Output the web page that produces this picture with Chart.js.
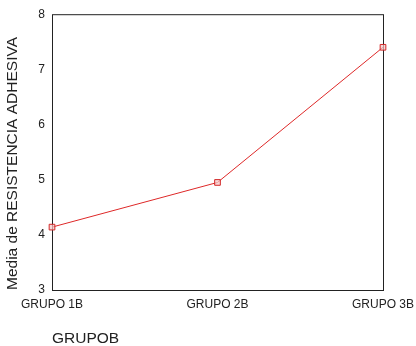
<!DOCTYPE html>
<html>
<head>
<meta charset="utf-8">
<script src="https://cdn.jsdelivr.net/npm/chart.js@4/dist/chart.umd.min.js"></script>
<style>
  html, body { margin: 0; padding: 0; background: #fff; }
  #wrap { width: 416px; height: 346px; }
</style>
</head>
<body>
<div id="wrap"><canvas id="chart" width="416" height="346"></canvas></div>
<script>
// Data
const grupos = ['GRUPO 1B', 'GRUPO 2B', 'GRUPO 3B'];
const mediaResistencia = [4.14, 4.95, 7.40];
const yTicks = [3, 4, 5, 6, 7, 8];

const textColor = '#222';
const fontFamily = '"Liberation Sans", Arial, sans-serif';

// Draw the box around the plot area (SPSS style frame)
const framePlugin = {
  id: 'frame',
  beforeDatasetsDraw(chart) {
    const { ctx, chartArea: a } = chart;
    ctx.save();
    ctx.strokeStyle = '#222';
    ctx.lineWidth = 1;
    ctx.strokeRect(a.left + 0.5, a.top + 0.5, a.right - a.left, a.bottom - a.top);
    ctx.restore();
  }
};

new Chart(document.getElementById('chart'), {
  type: 'line',
  data: {
    labels: grupos,
    datasets: [{
      label: 'Media de RESISTENCIA ADHESIVA',
      data: mediaResistencia,
      borderColor: 'rgb(222, 40, 40)',
      borderWidth: 1,
      backgroundColor: 'rgba(245, 200, 200, 0.7)',
      pointStyle: 'rect',
      pointRadius: 4,
      pointBorderColor: 'rgb(210, 40, 40)',
      pointBorderWidth: 1,
      tension: 0
    }]
  },
  options: {
    responsive: false,
    animation: false,
    layout: { padding: { left: 3, top: 14, right: 33, bottom: 0 } },
    plugins: {
      legend: { display: false },
      tooltip: { enabled: false }
    },
    scales: {
      x: {
        type: 'category',
        offset: false,
        grid: { display: false, drawTicks: false },
        border: { display: false },
        ticks: {
          color: textColor,
          padding: 7,
          maxRotation: 0,
          autoSkip: false,
          font: { family: fontFamily, size: 12 }
        },
        title: {
          display: true,
          text: 'GRUPOB',
          align: 'start',
          color: textColor,
          padding: { top: 0, bottom: -2 },
          font: { family: fontFamily, size: 15.5 }
        },
        afterFit(scale) {
          scale.height = 56;
          // keep the plot box where the reference has it
          scale.paddingLeft = 0;
          scale.paddingRight = 0;
        }
      },
      y: {
        min: 3,
        max: 8,
        grid: { display: false, drawTicks: false },
        border: { display: false },
        afterBuildTicks(scale) { scale.ticks = yTicks.map(v => ({ value: v })); },
        ticks: {
          color: textColor,
          padding: 7,
          font: { family: fontFamily, size: 12 }
        },
        title: {
          display: true,
          text: 'Media de RESISTENCIA ADHESIVA',
          align: 'start',
          color: textColor,
          padding: 0,
          font: { family: fontFamily, size: 15.5 }
        },
        afterFit(scale) { scale.width = 49; }
      }
    }
  },
  plugins: [framePlugin]
});
</script>
</body>
</html>
